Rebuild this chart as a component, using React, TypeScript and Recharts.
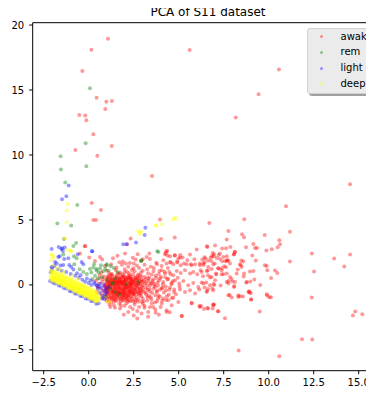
import React from 'react'
import { ScatterChart, Scatter, XAxis, YAxis, ReferenceLine } from 'recharts'

// PCA component 1 / component 2 per sleep stage
const awake: number[][] = [
  [1.07,18.95],[0.15,18.1],[5.61,18.08],[-0.35,16.46],[10.57,16.57],[9.44,14.67],[0.44,14.4],[0.98,14.1],[1.29,14.15],[0.92,13.54],
  [-0.52,13.08],[-0.19,13.03],[-0.13,12.67],[8.17,12.88],[0.26,11.6],[1.28,10.7],[-0.74,10.38],[0.48,9.95],[3.52,8.39],[14.52,7.75],
  [0.17,6.31],[10.96,6.05],[0.68,5.77],[8.64,5.05],[0.26,5.0],[0.41,5.0],[6.7,4.77],[11.18,4.1],[7.76,4.15],[3.96,5.03],
  [4.02,3.54],[4.78,3.65],[7.67,3.49],[8.52,3.9],[8.63,3.67],[9.78,3.85],[10.59,3.44],[10.63,3.13],[10.5,2.9],[12.4,2.41],
  [13.64,2.03],[14.52,2.34],[14.2,1.42],[12.52,1.03],[11.18,1.8],[2.33,3.57],[-0.22,3.0],[2.13,3.13],
  [8.33,-5.05],[10.59,-5.48],[11.85,-4.18],[12.42,-4.2],[12.39,-0.97],[9.5,-2.05],[7.57,-2.56],[5.17,-2.38],[2.7,-2.59],
  [14.81,-2.05],[14.68,-2.36],[15.2,-2.25],[15.53,-2.36],
  [9.15,3.15],[9.24,2.85],[9.35,2.85],[9.87,2.65],[10.17,2.75],[8.11,2.54],[8.07,2.34],[6.59,2.92],[7.02,3.03],[7.41,2.8],
  [7.63,2.82],[7.87,2.92],[6.44,2.13],[6.89,2.46],[6.94,2.21],[7.22,2.31],[7.29,2.0],[7.67,2.21],[7.7,1.85],[7.76,1.9],
  [6.64,1.88],[6.81,1.85],[7.0,1.65],[6.18,1.65],[6.44,1.75],[7.42,1.82],[7.59,1.82],[8.48,1.88],[8.59,1.8],[8.44,1.52],
  [9.09,2.26],[9.28,1.88],[9.79,1.52],[9.89,1.46],[9.92,1.13],[10.35,1.11],[10.48,0.92],[6.39,1.54],[6.22,1.13],[6.61,1.11],
  [6.83,1.23],[7.2,1.28],[7.39,1.28],[7.53,1.44],[7.63,1.36],[7.09,0.8],[7.48,0.82],[7.67,0.88],[8.28,1.18],[8.96,1.03],
  [9.15,1.08],[9.2,0.42],[10.13,0.54],[8.61,0.65],[8.98,0.26],[9.53,0.0],[8.76,0.18],[6.28,0.18],[6.53,0.18],[6.94,0.08],
  [6.98,0.0],[7.76,0.31],[7.94,0.46],[7.98,0.26],[8.13,0.23],[7.33,-0.05],[8.09,-0.08],[6.44,-0.2],[6.63,-0.31],[6.57,-0.46],
  [6.87,-0.28],[7.83,-0.77],[7.94,-0.97],[8.31,-0.92],[8.57,-0.89],[8.92,-0.48],[9.0,-0.64],[9.92,-0.82],[10.03,-0.95],[10.13,-0.95],
  [9.02,-1.12],[6.24,-1.62],[6.59,-1.77],[6.89,-1.82],[6.96,-1.51],[7.2,-2.02],[6.35,0.67],[6.63,0.75],[6.74,0.57],[6.15,-1.62],
  [6.92,-1.51],[7.18,-2.02],[6.41,-1.85],[5.72,-1.38],[8.41,-0.87],[8.94,-0.56],[9.03,-1.12],[9.89,-0.72],
  [6.0,2.72],[6.57,2.98],[8.74,2.9],[4.28,2.46],[4.37,2.62],[4.79,2.28],[4.98,2.03],[5.07,2.11],[5.87,1.98],[6.31,1.95],
  [6.78,2.11],[6.96,2.36],[7.29,2.41],[7.48,2.15],[8.07,2.36],[8.13,2.54],
  [4.33,1.64],[4.52,1.77],[4.7,1.59],[4.92,1.72],[5.11,1.52],[5.29,1.64],[5.44,1.59],[5.72,1.52],[5.91,1.59],
  [6.18,1.52],[6.37,1.64],[6.64,1.38],[6.92,1.59],[7.2,1.26],[7.39,1.13],[7.67,1.9],[7.85,1.64],[8.41,1.59],[8.5,1.38],[8.63,0.88],
  [4.06,1.13],[4.24,0.88],[4.48,1.0],[4.7,0.75],[4.89,1.08],[5.11,0.92],[5.35,1.13],[5.63,0.88],[5.81,1.0],[6.03,0.82],
  [6.28,1.0],[6.56,1.08],[6.83,0.62],[7.07,0.88],[7.39,0.82],[7.85,0.62],[8.22,0.88],
  [3.96,0.49],[4.14,0.23],[4.37,0.41],[4.61,0.15],[4.79,0.36],[5.03,0.11],[5.26,0.31],[5.53,-0.02],[5.81,0.15],[6.09,-0.15],
  [6.37,0.11],[6.74,-0.02],[7.02,0.36],[7.67,0.23],[7.76,0.11],[8.07,-0.15],[8.78,0.23],
  [4.06,-0.28],[4.29,-0.41],[4.52,-0.2],[4.74,-0.54],[5.07,-0.36],[5.35,-0.54],[5.63,-0.41],[5.91,-0.66],[6.14,-0.36],[6.56,-0.54],
  [6.92,-0.41],[7.76,-0.79],[8.31,-0.79],[8.87,-0.54],
  [4.14,-1.05],[4.42,-1.18],[4.7,-0.97],[4.98,-1.31],[5.72,-1.43],[6.18,-1.69],[6.64,-1.82],[6.92,-1.56],[5.17,-2.41],[4.33,-2.08],
  [0.03,2.11],[0.63,2.15],[0.35,1.85],[-0.48,2.41],[-0.19,2.98],[2.02,2.41],[3.37,2.41],[2.61,1.95],[3.0,1.98],[4.31,2.59],
  [4.37,2.26],[4.78,2.26],[5.09,2.31],[5.22,2.11],[5.63,2.34],[6.48,2.03],[6.85,2.21],[7.11,2.08],[4.56,1.72],[4.92,1.8],
  [5.48,1.9],[5.67,1.59],[2.72,2.36],[3.22,2.15],[4.24,2.36],[4.52,2.21],
  [0.75,1.95],[1.35,2.05],[1.9,1.8],[2.45,2.1],[2.9,1.85],[3.4,2.0],[3.75,1.7],[1.6,2.25],
  [0.9,1.45],[1.25,1.6],[1.55,1.35],[1.85,1.55],[2.2,1.4],[2.5,1.65],[2.8,1.3],[3.1,1.55],[3.45,1.4],[3.8,1.6],
  [2.07,1.64],[2.29,1.69],[2.48,1.28],[2.67,1.49],[1.7,1.75],[3.25,1.2],
  [0.7,0.95],[1.0,1.1],[1.3,0.85],[1.5,1.15],[1.75,0.95],[2.0,1.2],[2.25,0.9],[2.55,1.05],[2.75,0.8],[3.0,1.1],
  [3.3,0.9],[3.6,1.05],[3.9,0.85],[1.15,0.9],[1.9,0.8],[2.4,1.15],[2.9,0.95],[3.5,0.8],[1.62,0.88],[2.12,1.02],
  [0.6,0.5],[0.85,0.65],[1.05,0.4],[1.2,0.6],[1.4,0.35],[1.55,0.7],[1.7,0.45],[1.85,0.6],[2.0,0.3],[2.15,0.55],
  [2.3,0.7],[2.45,0.4],[2.6,0.6],[2.8,0.35],[2.95,0.65],[3.15,0.45],[3.35,0.6],[3.55,0.3],[3.75,0.55],[1.3,0.5],
  [1.95,0.65],[2.7,0.5],[3.05,0.3],[1.1,0.7],[2.35,0.45],
  [0.55,0.1],[0.75,0.25],[0.9,0.0],[1.05,0.2],[1.2,-0.05],[1.35,0.15],[1.5,0.05],[1.6,0.25],[1.75,0.0],[1.9,0.2],
  [2.05,-0.05],[2.2,0.15],[2.35,0.0],[2.5,0.2],[2.65,-0.05],[2.8,0.15],[3.0,0.0],[3.2,0.2],[3.4,-0.05],[3.65,0.1],
  [3.85,-0.05],[1.42,-0.02],[1.68,0.12],[1.98,0.08],[2.28,0.22],[2.58,0.05],[1.12,0.08],[2.9,0.25],
  [0.65,-0.3],[0.85,-0.45],[1.0,-0.2],[1.1,-0.55],[1.25,-0.35],[1.4,-0.5],[1.5,-0.2],[1.6,-0.4],[1.72,-0.55],[1.82,-0.25],
  [1.95,-0.45],[2.05,-0.3],[2.15,-0.55],[2.25,-0.2],[2.4,-0.4],[2.55,-0.25],[2.7,-0.5],[2.85,-0.3],[3.0,-0.45],[3.2,-0.25],
  [3.4,-0.5],[3.6,-0.3],[3.8,-0.45],[1.33,-0.15],[1.88,-0.6],[2.32,-0.58],[2.62,-0.15],[1.55,-0.58],[1.05,-0.38],[2.95,-0.15],
  [0.9,-0.85],[1.05,-0.7],[1.2,-0.95],[1.35,-0.75],[1.45,-1.05],[1.6,-0.8],[1.75,-1.0],[1.85,-0.7],[2.0,-0.9],[2.1,-1.1],
  [2.2,-0.75],[2.35,-0.95],[2.5,-0.7],[2.65,-1.0],[2.8,-0.8],[3.0,-1.05],[3.2,-0.75],[3.45,-0.95],[3.7,-0.8],[1.3,-1.1],
  [1.68,-0.65],[2.42,-1.1],[1.95,-0.68],[2.9,-0.65],
  [1.0,-1.2],[1.25,-1.35],[1.5,-1.25],[1.7,-1.45],[1.9,-1.2],[2.1,-1.4],[2.3,-1.25],[2.55,-1.5],[2.75,-1.3],[3.0,-1.45],
  [3.25,-1.2],[3.5,-1.4],[3.8,-1.25],[1.4,-1.55],[2.0,-1.6],[2.6,-1.15],[1.15,-1.5],
  [1.46,-1.76],[1.74,-1.82],[2.2,-2.08],[2.94,-2.2],[3.31,-2.08],[3.72,-2.15],[4.33,-1.95],[4.61,-1.56],[4.06,-1.43],[3.59,-1.69],
  [2.45,-1.85],[1.95,-2.3],[3.1,-1.75],[2.7,-2.0],
  [1.08,-0.12],[1.18,0.32],[1.27,-0.62],[1.38,0.42],[1.47,-0.28],[1.53,0.52],[1.58,-0.72],[1.65,-0.08],[1.71,0.35],[1.78,-0.35],
  [1.83,0.05],[1.88,-0.85],[1.92,0.42],[1.97,-0.18],[2.02,-0.62],[2.08,0.18],[2.12,-0.38],[2.18,0.38],[2.22,-0.82],[2.27,-0.08],
  [2.33,0.32],[2.38,-0.48],[2.43,0.12],[2.48,-0.72],[1.12,-0.88],[1.22,0.18],[1.36,-0.42],[1.44,0.22],[1.52,-0.92],[1.62,0.08],
  [1.68,-0.22],[1.74,0.55],[1.8,-0.52],[1.86,0.28],[1.93,-0.32],[2.0,0.48],[2.05,-0.78],[2.1,0.02],[2.17,-0.22],[2.24,0.5],
  [2.3,-0.65],[2.36,0.12],[2.44,-0.3],[2.52,0.32],[0.95,-0.55],[0.98,0.3],[1.02,-1.0],[1.16,-0.28],[1.29,0.02],[1.41,-0.82],
  [1.57,0.38],[1.66,-1.12],[1.79,0.18],[1.91,-1.0],[2.03,0.62],[2.14,-1.02],[2.26,-0.38],[2.39,0.28],[2.57,-0.42],[2.63,0.42],
  [2.72,-0.28],[2.77,0.08],[2.86,-0.62],[2.93,0.42],[3.08,-0.55],[3.12,0.12],[3.28,-0.38],[3.32,0.32],[1.03,0.52],[1.24,0.78],
  [1.48,0.62],[1.73,0.82],[1.99,0.95],[2.21,0.72],[2.47,0.82],[2.73,0.68],
  [3.5,0.15],[3.7,-0.15],[3.9,0.35],[4.1,-0.2],[4.25,0.6],[4.45,-0.75],[4.6,0.05],[4.4,1.3],[4.15,1.9],[3.95,-0.9],
  [4.3,-1.15],[4.75,-0.35],[3.62,1.3],[4.05,1.45],[3.35,-0.85],[3.85,-1.05],
  [0.4,0.35],[0.5,-0.15],[0.7,-0.7],[0.8,0.45],[0.45,-0.55],[0.62,0.75],[0.78,-1.0],[0.88,-0.12],
  [0.93,-0.22],[0.97,0.12],[1.01,-0.72],[1.06,0.62],[1.09,-0.42],[1.13,0.22],[1.14,-1.08],[1.19,-0.18],[1.21,0.45],[1.23,-0.8],
  [1.26,0.05],[1.28,-0.48],[1.31,0.68],[1.34,-0.28],[1.37,-0.95],[1.39,0.28],[1.43,-0.62],[1.46,0.1],[1.49,-1.15],[1.51,-0.42],
  [1.54,0.3],[1.56,-0.05],[1.59,-0.95],[1.63,0.58],[1.64,-0.52],[1.67,0.22],[1.7,-0.88],[1.73,-0.15],[1.76,0.42],[1.77,-0.68],
  [1.81,-1.12],[1.84,0.15],[1.87,-0.42],[1.89,0.65],[1.94,-0.78],[1.96,0.25],[1.99,-0.52],[2.01,-1.18],[2.04,0.02],[2.07,-0.95],
  [2.09,0.4],[2.11,-0.62],[2.16,-0.12],[2.19,0.58],[2.23,-1.15],[2.25,0.12],[2.29,-0.42],[2.31,-0.9],[2.34,0.52],[2.37,-0.22],
  [2.41,-0.65],[2.45,0.25],[2.49,-0.05],[2.53,-0.88],[2.56,0.55],[2.59,-0.55],[2.64,0.15],[2.68,-0.72],[2.71,-0.02],[2.76,-1.12],
  [2.79,0.52],[2.83,-0.45],[2.88,0.05],[2.92,-0.88],[2.97,0.28],[3.03,-0.22],[3.06,-1.25],[3.14,0.62],[3.18,-0.62],[3.23,-0.05],
  [3.27,-0.95],[3.33,0.48],[3.38,-0.32],[3.43,0.12],[3.48,-1.12],[3.53,-0.62],[3.58,0.42],[3.64,-0.05],[3.68,-1.35],[3.72,0.72],
  [3.78,-0.55],[3.83,0.18],[3.88,-0.82],[3.93,1.08],[3.97,-0.35],[4.02,0.62],[4.08,-1.22],[4.12,0.05],[4.18,-0.58],[4.22,1.02],
  [4.28,-0.12],[4.34,-0.88],[4.41,0.48],[4.48,-0.38],[4.55,0.82],[4.62,-1.02],[4.68,0.28],[4.85,-0.72],[4.95,0.55],[5.05,-0.12],
  [1.05,-0.05],[1.15,-0.62],[1.25,0.32],[1.35,-0.55],[1.45,-0.15],[1.55,0.18],[1.65,-0.62],[1.75,0.28],[1.85,-0.95],[1.95,-0.08],
  [2.05,0.35],[2.15,-0.85],[2.25,-0.5],[2.35,0.62],[2.45,-1.25],[2.55,-0.35],[2.65,0.35],[2.75,-0.6],[2.85,0.72],[2.95,-1.3],
  [0.98,-0.38],[1.18,0.05],[1.38,-1.22],[1.58,-0.32],[1.78,-1.3],[1.98,-0.32],[2.18,-1.28],[2.38,-0.1],[2.58,-1.32],[2.78,-0.18],
  [1.1,-1.3],[1.3,-1.0],[1.5,-0.7],[1.7,-0.3],[1.9,0.0],[2.1,-0.2],[2.3,0.05],[2.5,-0.6],[2.7,0.2],[2.9,-0.4],
  [3.1,-1.6],[3.4,-1.7],[3.7,-1.9],[2.8,-1.7],[2.3,-1.7],[1.8,-1.6],[1.2,-1.7],[4.0,-1.7],[4.5,-2.1],[3.9,-2.3],[2.5,-2.35],[3.3,-2.45],
]

const rem: number[][] = [
  [0.07,15.13],[-0.17,10.9],[-1.56,9.9],[-1.54,8.88],[-0.13,9.13],[-1.3,7.88],[-0.63,6.15],[-1.74,4.72],[-0.97,4.57],[3.81,2.59],
  [-0.7,3.23],[-0.85,3.0],[-1.41,2.34],[-0.82,2.21],[-0.67,2.05],[2.92,1.85],
  [0.07,1.23],[0.26,1.34],[0.44,1.23],[0.68,1.52],[1.0,1.59],[1.22,1.44],[0.92,1.23],[-0.3,1.0],[-0.1,0.85],[0.15,0.95],
  [0.35,0.7],[0.55,0.95],[0.8,1.05],[1.1,1.1],[1.4,1.3],[0.5,0.5],[0.75,0.6],[1.0,0.4],[1.3,0.15],[-0.5,1.2],
  [-0.8,1.6],[0.3,1.6],[1.6,1.0],[0.2,0.45],[1.46,0.49],[1.37,0.11],[2.76,0.23],[2.94,1.9],[3.87,2.54],[1.0,1.52],
  [0.63,1.26],[0.44,1.12],[1.46,-0.54],[1.2,-0.3],[1.7,-0.75],[0.95,-0.9],[2.1,0.05],
]

const light: number[][] = [
  [-1.11,7.65],[-1.24,6.82],[-1.48,6.59],[3.15,4.41],[3.11,3.85],[1.92,3.13],[2.11,3.13],[2.63,3.26],[-1.37,3.54],[0.18,2.59],
  [-2.06,2.77],[-1.67,2.92],[-1.48,2.82],[-1.52,2.77],[-1.33,2.88],[-1.43,2.62],[-1.61,2.21],[-1.36,2.0],[-1.13,2.05],[-0.61,2.36],
  [0.2,2.59],[-0.39,1.77],[-0.3,1.59],[-1.08,1.54],[-0.97,1.38],[-0.85,1.18],[-2.02,1.34],[-2.11,0.98],[-1.78,1.64],[-1.56,1.49],
  [-1.41,1.54],[-2.06,1.38],[-1.87,1.77],[-1.69,2.15],
  [-1.7,1.2],[-1.5,1.1],[-1.25,1.0],[-1.0,0.85],[-0.75,0.7],[-0.55,0.55],[-0.35,0.4],[-0.2,0.25],[0.0,0.15],[0.15,0.0],
  [-0.65,0.9],[-0.45,0.75],[-0.1,0.5],[0.1,0.35],[0.3,0.2],[-1.9,1.45],[-2.05,1.15],
  [-2.15,0.3],[-1.98,0.16],[-1.85,0.12],[-1.66,-0.04],[-1.55,-0.06],[-1.38,-0.24],[-1.25,-0.28],[-1.06,-0.46],[-0.95,-0.48],[-0.77,-0.66],
  [-0.65,-0.68],[-0.47,-0.86],[-0.35,-0.88],[-0.17,-1.05],[-0.05,-1.06],[0.13,-1.24],[0.25,-1.24],[0.42,-1.44],[0.55,-1.41],
  [0.5,-0.3],[0.6,-0.6],[0.7,-0.2],[0.75,-0.85],[0.8,-0.45],[0.85,0.0],[0.9,-0.7],[0.95,-0.3],[0.65,0.1],[0.55,-0.1],
  [1.0,-0.55],[0.72,-1.05],[0.45,-0.05],[0.35,0.05],[1.1,-0.15],[0.88,-1.1],
]

const deep: number[][] = [
  [-1.17,6.23],[-1.22,5.72],[-1.22,4.82],[4.78,5.18],[4.83,5.07],[4.67,5.03],[4.07,4.67],[3.7,4.57],[3.75,4.6],[2.85,4.13],
  [2.74,4.13],[2.92,4.05],[2.81,3.9],[-1.3,3.57],[-1.41,3.54],[-1.04,2.67],[-0.97,2.57],[-1.22,2.67],[-1.0,2.62],[-2.06,2.36],
  [-1.97,2.21],[-2.06,2.28],[-1.97,2.1],[-2.0,1.5],[-1.8,1.3],[-1.6,1.2],[-2.1,1.9],[-1.4,1.0],[-0.9,0.7],[-0.6,0.45],
  [1.19,-1.35],[1.05,-1.25],
  [-2.08,0.5],[-2.12,0.7],[-2.05,0.9],[-2.1,1.0],[-2.0,0.45],[-1.98,0.6],[-2.02,0.78],[-1.97,0.95],
  [-1.9,0.38],[-1.92,0.55],[-1.88,0.72],[-1.9,0.88],[-1.8,0.3],[-1.82,0.48],[-1.78,0.62],[-1.8,0.8],
  [-1.7,0.25],[-1.72,0.42],[-1.68,0.58],[-1.7,0.75],[-1.6,0.18],[-1.62,0.35],[-1.58,0.5],[-1.6,0.68],
  [-1.5,0.1],[-1.52,0.28],[-1.48,0.45],[-1.5,0.62],[-1.4,0.05],[-1.42,0.2],[-1.38,0.38],[-1.4,0.55],
  [-1.3,-0.02],[-1.32,0.15],[-1.28,0.3],[-1.3,0.48],[-1.2,-0.1],[-1.22,0.08],[-1.18,0.25],[-1.2,0.42],
  [-1.1,-0.15],[-1.12,0.0],[-1.08,0.18],[-1.1,0.35],[-1.0,-0.22],[-1.02,-0.05],[-0.98,0.12],[-1.0,0.3],
  [-0.9,-0.3],[-0.92,-0.12],[-0.88,0.05],[-0.9,0.22],[-0.8,-0.35],[-0.82,-0.18],[-0.78,0.0],[-0.8,0.15],
  [-0.7,-0.42],[-0.72,-0.25],[-0.68,-0.08],[-0.7,0.1],[-0.6,-0.5],[-0.62,-0.32],[-0.58,-0.15],[-0.6,0.02],
  [-0.5,-0.55],[-0.52,-0.38],[-0.48,-0.2],[-0.5,-0.05],[-0.4,-0.62],[-0.42,-0.45],[-0.38,-0.28],[-0.4,-0.1],
  [-0.3,-0.7],[-0.32,-0.52],[-0.28,-0.35],[-0.3,-0.18],[-0.2,-0.75],[-0.22,-0.58],[-0.18,-0.4],[-0.2,-0.25],
  [-0.1,-0.82],[-0.12,-0.65],[-0.08,-0.48],[-0.1,-0.3],[0.0,-0.9],[-0.02,-0.72],[0.02,-0.55],[0.0,-0.38],
  [0.1,-0.95],[0.08,-0.78],[0.12,-0.6],[0.1,-0.45],[0.2,-1.02],[0.18,-0.85],[0.22,-0.68],[0.2,-0.5],
  [0.3,-1.1],[0.28,-0.9],[0.32,-0.72],[0.3,-0.58],[0.4,-1.15],[0.38,-0.98],[0.42,-0.8],[0.4,-0.65],
  [0.5,-1.2],[0.52,-1.02],[0.48,-0.85],[0.6,-1.1],[0.62,-0.92],
  [-2.05,0.62],[-1.95,0.5],[-1.85,0.6],[-1.75,0.52],[-1.65,0.45],[-1.55,0.38],[-1.45,0.32],[-1.35,0.25],[-1.25,0.18],[-1.15,0.1],
  [-1.05,0.05],[-0.95,-0.02],[-0.85,-0.1],[-0.75,-0.15],[-0.65,-0.22],[-0.55,-0.3],[-0.45,-0.35],[-0.35,-0.42],[-0.25,-0.5],[-0.15,-0.55],
  [-0.05,-0.62],[0.05,-0.7],[0.15,-0.75],[0.25,-0.82],[0.35,-0.88],[0.45,-0.95],
  [-2.1,1.15],[-2.12,0.4],[-2.0,1.1],[-2.02,0.35],[-1.9,1.02],[-1.92,0.28],[-1.8,0.98],[-1.82,0.2],[-1.7,0.9],[-1.72,0.15],
  [-1.6,0.85],[-1.62,0.08],[-1.5,0.78],[-1.52,0.02],[-1.4,0.72],[-1.42,-0.05],[-1.3,0.65],[-1.32,-0.12],[-1.2,0.58],[-1.22,-0.18],
  [-1.1,0.52],[-1.12,-0.25],[-1.0,0.45],[-1.02,-0.32],[-0.9,0.38],[-0.92,-0.38],[-0.8,0.32],[-0.82,-0.45],[-0.7,0.25],[-0.72,-0.52],
  [-0.6,0.18],[-0.62,-0.58],[-0.5,0.12],[-0.52,-0.65],[-0.4,0.05],[-0.42,-0.72],[-0.3,-0.02],[-0.32,-0.78],[-0.2,-0.08],[-0.22,-0.85],
  [-0.1,-0.15],[-0.12,-0.9],[0.0,-0.2],[-0.02,-0.98],[0.1,-0.28],[0.08,-1.05],[0.2,-0.35],[0.18,-1.1],[0.3,-0.42],[0.28,-1.18],
  [0.4,-0.5],[0.38,-1.25],[0.5,-0.62],[0.48,-1.3],
]

const X_TICKS = [-2.5, 0, 2.5, 5, 7.5, 10, 12.5, 15]
const Y_TICKS = [-5, 0, 5, 10, 15, 20]
const SERIES = [
  { name: 'awake', color: '#ff0000', pts: awake },
  { name: 'rem', color: '#008000', pts: rem },
  { name: 'light', color: '#0000ff', pts: light },
  { name: 'deep', color: '#ffff00', pts: deep },
]

const X_DOMAIN = [-3.11, 16.5]
const Y_DOMAIN = [-6.6, 20.18]
const minus = (s: string) => s.replace('-', '\u2212')
const font = 'DejaVu Sans, sans-serif'

const dot = (color: string) => (p: any) => (
  <circle cx={p.cx} cy={p.cy} r={2} fill={color} fillOpacity={0.4} />
)

export default function App() {
  return (
    <div style={{ position: 'relative', width: 374, height: 394, margin: -8, overflow: 'hidden', fontFamily: font, background: '#fff' }}>
      <div style={{ position: 'absolute', left: 108, width: 200, top: 4.5, textAlign: 'center', fontSize: 12, lineHeight: '14px', color: '#000', zIndex: 2 }}>
        PCA of S11 dataset
      </div>
      <ScatterChart width={400} height={394} margin={{ top: 22.7, right: 14.3, bottom: 0, left: 0 }}>
        <XAxis type="number" dataKey="x" domain={X_DOMAIN} ticks={X_TICKS} allowDataOverflow
          tickFormatter={(v: number) => minus(v.toFixed(1))} height={23.3} tickSize={3.5} tickMargin={5}
          stroke="#000" tick={{ fill: '#000', fontSize: 10, fontFamily: font }} />
        <YAxis type="number" dataKey="y" domain={Y_DOMAIN} ticks={Y_TICKS} allowDataOverflow
          tickFormatter={(v: number) => minus(String(v))} width={32.7} tickSize={3.5} tickMargin={5}
          stroke="#000" tick={{ fill: '#000', fontSize: 10, fontFamily: font }} />
        <ReferenceLine y={Y_DOMAIN[1]} stroke="#000" />
        <ReferenceLine x={X_DOMAIN[1]} stroke="#000" />
        {SERIES.map(s => (
          <Scatter key={s.name} name={s.name} data={s.pts.map(([x, y]) => ({ x, y }))}
            shape={dot(s.color)} isAnimationActive={false} />
        ))}
      </ScatterChart>
      <div style={{ position: 'absolute', left: 309, top: 30, width: 80, height: 66, background: '#a0a0a0', borderRadius: 3 }} />
      <div style={{ position: 'absolute', left: 307, top: 28, width: 80, height: 66, background: '#ebebeb', border: '1px solid #d0d0d0', borderRadius: 3, boxSizing: 'border-box' }} />
      {SERIES.map((s, i) => (
        <div key={s.name} style={{ position: 'absolute', left: 0, top: 36.7 + i * 15.7 - 7, height: 14, width: 374 }}>
          <div style={{ position: 'absolute', left: 320.2, top: 5.5, width: 3, height: 3, borderRadius: '50%', background: s.color, opacity: 0.4 }} />
          <div style={{ position: 'absolute', left: 340.5, top: 0, fontSize: 10, lineHeight: '14px', color: '#000' }}>{s.name}</div>
        </div>
      ))}
    </div>
  )
}
